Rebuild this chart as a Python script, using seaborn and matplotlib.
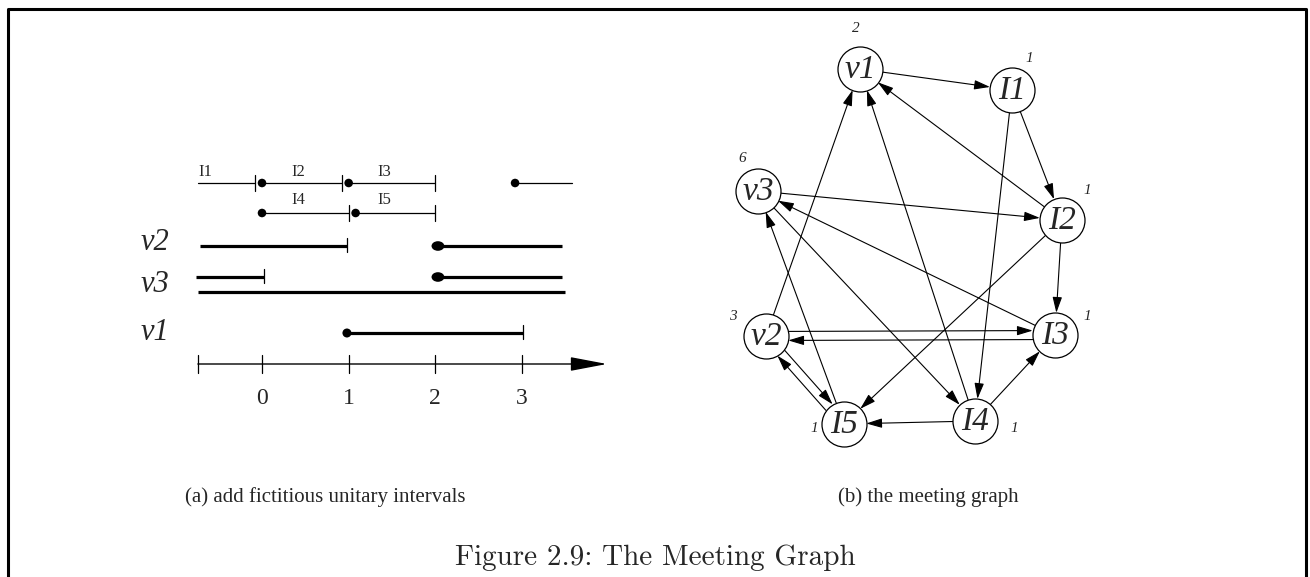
import matplotlib
matplotlib.use("Agg")
import matplotlib.pyplot as plt
from matplotlib.lines import Line2D
from matplotlib.path import Path
from matplotlib.transforms import Affine2D
import pandas as pd
import seaborn as sns

# ---------------- (a) intervals, x in time units ----------------
unit_names = ["I1", "I2", "I3", "", "I4", "I5"]
unit_row = ["top", "top", "top", "top", "mid", "mid"]
unit_start = [-0.74, 0.0, 1.0, 2.92, 0.0, 1.08]
unit_end = [-0.08, 0.92, 2.0, 3.58, 1.0, 2.0]
unit_dot = [False, True, True, True, True, True]
unit_tick = [True, True, True, False, True, True]
unit_label_x = [-0.65, 0.42, 1.41, None, 0.42, 1.41]

var_row = ["v2", "v2", "v3", "v3", "v3b", "v1"]
var_start = [-0.72, 2.03, -0.76, 2.03, -0.74, 0.98]
var_end = [0.98, 3.46, 0.02, 3.46, 3.5, 3.01]
var_dot = ["", "big", "", "big", "", "small"]
var_tick = [True, False, True, False, False, True]
var_labels = ["v2", "v3", "v1"]

axis_ticks = [-0.74, 0, 1, 2, 3]
axis_tick_labels = ["", "0", "1", "2", "3"]
axis_end = 3.98

# ---------------- (b) meeting graph ----------------
nodes = ["v1", "I1", "v3", "I2", "v2", "I3", "I5", "I4"]
node_x = [860, 1012, 758, 1062, 766, 1055, 844, 975]
node_y = [69, 90, 191, 220, 336, 335, 424, 421]
node_count = ["2", "1", "6", "1", "3", "1", "1", "1"]
count_x = [856, 1029, 742, 1087, 733, 1087, 814, 1014]
count_y = [28, 58, 158, 190, 316, 316, 428, 428]
edges = [("v1", "I1"), ("I1", "I2"), ("I1", "I4"), ("I2", "v1"), ("I2", "I3"),
         ("I2", "I5"), ("v3", "I2"), ("v3", "I4"), ("I3", "v3"), ("I5", "v3"),
         ("v2", "v1"), ("v2", "I3"), ("I3", "v2"), ("v2", "I5"), ("I5", "v2"),
         ("I4", "v1"), ("I4", "I3"), ("I4", "I5")]

sns.set_theme(style="white")
serif = ["Liberation Serif", "DejaVu Serif"]
plt.rcParams["font.family"] = serif

fig = plt.figure(figsize=(13.1, 5.77), dpi=100)
W, H = 1310, 577

# left panel axes: x in time units, y in row positions (pixels from top)
axL = fig.add_axes([132 / W, (H - 420) / H, 494 / W, 270 / H])
axL.set_xlim(-1.5, 4.2)
axL.set_ylim(420, 150)
axL.axis("off")
row_y = {"top": 183, "mid": 213, "v2": 246, "v3": 277, "v3b": 292, "v1": 333}
label_y = {"top": 172, "mid": 200}
lab_y = {"v2": 243, "v3": 284, "v1": 333}
axis_y = 364

ellipse = Path.unit_circle().transformed(Affine2D().scale(1, 0.75))

# thin unit intervals
for name, r, s, e, d, t, lx in zip(unit_names, unit_row, unit_start, unit_end,
                                   unit_dot, unit_tick, unit_label_x):
    y = row_y[r]
    axL.plot([s, e], [y, y], color="black", lw=0.9)
    if t:
        axL.plot([e, e], [y - 8, y + 8], color="black", lw=0.9)
    if name:
        axL.text(lx, label_y[r], name, ha="center", va="center", fontsize=12)
dots = pd.DataFrame({"x": [s for s, d in zip(unit_start, unit_dot) if d],
                     "y": [row_y[r] for r, d in zip(unit_row, unit_dot) if d]})
sns.scatterplot(data=dots, x="x", y="y", ax=axL, color="black", s=38,
                edgecolor="none", legend=False)

# thick variable intervals
for r, s, e, d, t in zip(var_row, var_start, var_end, var_dot, var_tick):
    y = row_y[r]
    axL.plot([s, e], [y, y], color="black", lw=2.3, solid_capstyle="butt")
    if t:
        axL.plot([e, e], [y - 8, y + 6], color="black", lw=0.9)
big = pd.DataFrame({"x": [s for s, d in zip(var_start, var_dot) if d == "big"],
                    "y": [row_y[r] for r, d in zip(var_row, var_dot) if d == "big"]})
sns.scatterplot(data=big, x="x", y="y", ax=axL, color="black", s=85,
                marker=ellipse, edgecolor="none", legend=False)
small = pd.DataFrame({"x": [s for s, d in zip(var_start, var_dot) if d == "small"],
                      "y": [row_y[r] for r, d in zip(var_row, var_dot) if d == "small"]})
sns.scatterplot(data=small, x="x", y="y", ax=axL, color="black", s=42,
                edgecolor="none", legend=False)
for lab in var_labels:
    axL.text(-1.24, lab_y[lab], lab, ha="center", va="center", fontsize=22,
             style="italic")

# time axis
axL.annotate("", xy=(axis_end, axis_y), xytext=(axis_ticks[0], axis_y),
             arrowprops=dict(arrowstyle="-|>,head_length=1.9,head_width=0.36",
                             mutation_scale=12, color="black", lw=1.0,
                             shrinkA=0, shrinkB=0))
for tx, tl in zip(axis_ticks, axis_tick_labels):
    axL.plot([tx, tx], [axis_y - 9, axis_y + 9], color="black", lw=0.9)
    if tl:
        axL.text(tx, 398, tl, ha="center", va="center", fontsize=17)

# right panel axes in layout units
axR = fig.add_axes([700 / W, (H - 460) / H, 430 / W, 460 / H])
axR.set_xlim(700, 1130)
axR.set_ylim(460, 0)
axR.axis("off")
pos = {n: (x, y) for n, x, y in zip(nodes, node_x, node_y)}
pairs = set(edges)
for a, b in edges:
    (x0, y0), (x1, y1) = pos[a], pos[b]
    if (b, a) in pairs:
        dx, dy = x1 - x0, y1 - y0
        L = (dx ** 2 + dy ** 2) ** 0.5
        ox, oy = dy / L * 4.5, -dx / L * 4.5
        x0, y0, x1, y1 = x0 + ox, y0 + oy, x1 + ox, y1 + oy
    axR.annotate("", xy=(x1, y1), xytext=(x0, y0),
                 arrowprops=dict(arrowstyle="-|>,head_length=0.8,head_width=0.24",
                                 mutation_scale=12, color="black", lw=0.8,
                                 shrinkA=16, shrinkB=16))
ndf = pd.DataFrame({"x": node_x, "y": node_y, "name": nodes})
sns.scatterplot(data=ndf, x="x", y="y", ax=axR, s=1050, color="white",
                edgecolor="black", linewidth=0.9, legend=False, zorder=3)
for n, x, y in zip(nodes, node_x, node_y):
    axR.text(x, y + 1, n, ha="center", va="center", fontsize=24,
             style="italic", zorder=4)
for c, x, y in zip(node_count, count_x, count_y):
    axR.text(x, y, c, ha="center", va="center", fontsize=11, style="italic")

# frame and captions
fig.add_artist(Line2D([8 / W, 8 / W, 1306 / W, 1306 / W], [0, 1 - 9 / H, 1 - 9 / H, 0],
                      transform=fig.transFigure, color="black", lw=2.2))
fig.text(325 / W, 1 - 497 / H, "(a) add fictitious unitary intervals",
         ha="center", va="center", fontsize=15)
fig.text(928 / W, 1 - 497 / H, "(b) the meeting graph",
         ha="center", va="center", fontsize=15)
fig.text(655 / W, 1 - 558 / H, "Figure 2.9: The Meeting Graph",
         ha="center", va="center", fontsize=21, family=["cmr10", "DejaVu Serif"])

fig.savefig("out.png", dpi=100)
